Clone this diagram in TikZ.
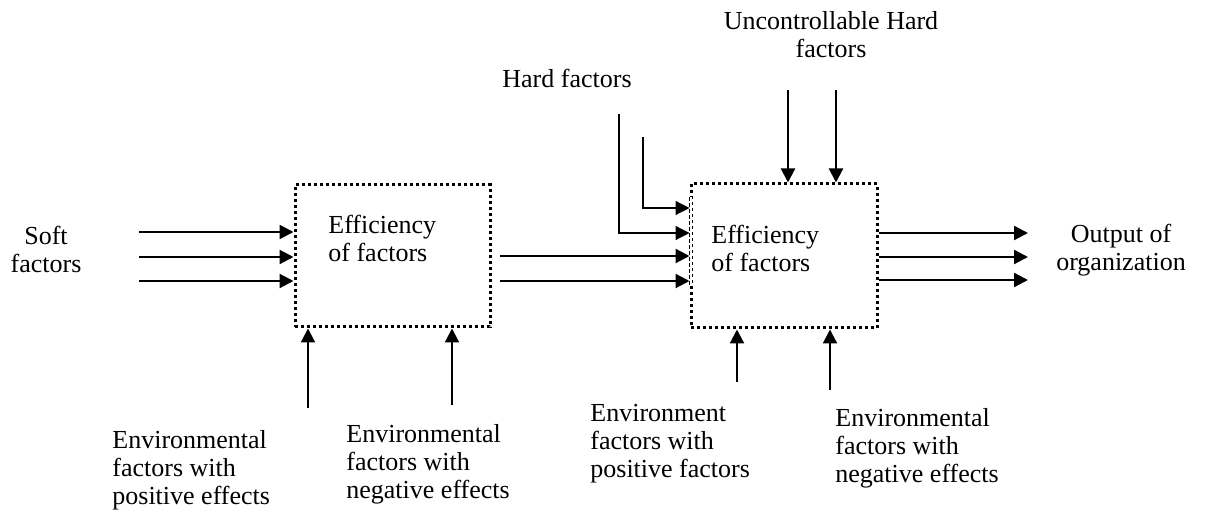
\documentclass[tikz,border=0pt]{standalone}
\usepackage{fontspec}
\setmainfont{Liberation Serif}
\usetikzlibrary{arrows.meta}

\begin{document}
\begin{tikzpicture}[x=0.5pt,y=-0.5pt,
		lbl/.style={font=\fontsize{13}{14}\selectfont,inner sep=0pt,align=left,anchor=base west},
		effbox/.style={draw,line width=1.5pt,dash pattern=on 1.5pt off 1.5pt,inner sep=0pt},
		arr/.style={-{Triangle[length=7pt,width=7pt]},line width=1.1pt},
		thinarr/.style={-{Triangle[length=7pt,width=7pt]},line width=0.6pt}]
			\useasboundingbox (0,0) rectangle (1221,517);
			\begin{scope}
				\node[effbox,minimum width=97.5pt,minimum height=71pt] (box1) at (392.5,256) {};
				\node[lbl] (eff1) at (328,262) {Efficiency\\of factors};
				\node[lbl,align=center,anchor=base] (soft) at (46,273) {Soft\\factors};
				\coordinate (s1) at (139,232);
				\coordinate (s2) at (139,257);
				\coordinate (s3) at (139,281);
				\foreach \Nombre in {1,2,3}
				\draw[arr] (s\Nombre) -- (s\Nombre -| box1.west);
				\coordinate (p1) at (308,408);
				\coordinate (p2) at (452,405);
				\foreach \Nombre in {1,2}
				\draw[arr] (p\Nombre) -- (p\Nombre |- box1.south);
				\node[lbl] (envpos) at (112,505) {Environmental\\factors with\\positive effects};
				\node[lbl] (envneg) at (346,499) {Environmental\\factors with\\negative effects};
			\end{scope}
			\begin{scope}
				\node[effbox,minimum width=93pt,minimum height=72pt] (box2) at (784,256) {};
				\draw[white,line width=2pt] ([yshift=-7.5pt]box2.north west) -- ([yshift=21.5pt]box2.south west);
				\draw[line width=0.5pt,dash pattern=on 2pt off 1pt] ([yshift=-7.5pt]box2.north west) -- ([yshift=21.5pt]box2.south west);
				\node[lbl] (eff2) at (711,272) {Efficiency\\of factors};
				\coordinate (m1) at (500,256);
				\coordinate (m2) at (500,281);
				\foreach \Nombre in {1,2}
				\draw[arr] (m\Nombre) -- (m\Nombre -| box2.west);
				\node[lbl,anchor=base] (hard) at (567,88) {Hard factors};
				\coordinate (h1) at (619,114);
				\coordinate (h2) at (643,137);
				\coordinate (k1) at (619,233);
				\coordinate (k2) at (643,208);
				\foreach \Nombre in {1,2}
				\draw[thinarr] (h\Nombre) -- (k\Nombre) -- (k\Nombre -| box2.west);
				\node[lbl,align=center,anchor=base] (unctrl) at (831,58) {Uncontrollable Hard\\factors};
				\coordinate (u1) at (788,90);
				\coordinate (u2) at (836,90);
				\foreach \Nombre in {1,2}
				\draw[arr] (u\Nombre) -- (u\Nombre |- box2.north);
				\coordinate (p3) at (737,382);
				\coordinate (p4) at (830,390);
				\foreach \Nombre in {3,4}
				\draw[arr] (p\Nombre) -- (p\Nombre |- box2.south);
				\node[lbl] (envpos2) at (590,478) {Environment\\factors with\\positive factors};
				\node[lbl] (envneg2) at (835,483) {Environmental\\factors with\\negative effects};
				\coordinate (o1) at (1028,233);
				\coordinate (o2) at (1028,257);
				\coordinate (o3) at (1028,280);
				\foreach \Nombre in {1,2,3}
				\draw[arr] (o\Nombre -| box2.east) -- (o\Nombre);
				\node[lbl,align=center,anchor=base] (output) at (1121,271) {Output of\\organization};
			\end{scope}
		\end{tikzpicture}
\end{document}
